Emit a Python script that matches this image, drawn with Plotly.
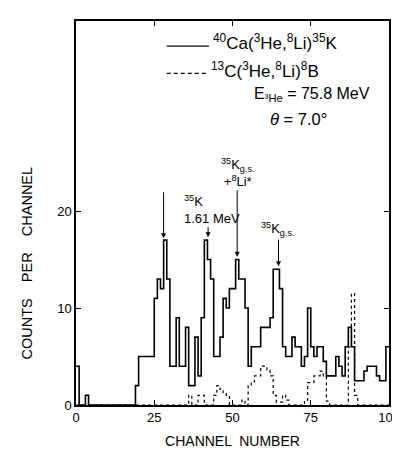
import plotly.graph_objects as go

# counts per channel (channel n covers [n, n+1))
channels = list(range(0, 101))
ca40_counts = [4, 0, 0, 1,
               0, 0, 0, 0, 0, 0, 0, 0, 0, 0, 0, 0, 0, 0, 0,
               2, 5, 5, 5, 5, 5,
               11, 13, 12, 17, 13,
               4, 4, 9, 4, 4,
               8, 2, 2, 7, 3,
               9, 17, 15, 13, 5,
               5, 7, 11, 10, 12,
               12, 15, 13, 13, 10,
               4, 6, 6, 6, 8,
               8, 8, 9, 14, 14,
               12, 6, 5, 5, 7,
               6, 6, 4, 5, 10,
               6, 5, 6, 6, 4.5,
               3, 3, 3, 5, 4,
               3, 6, 8, 6, 2.5,
               2.5, 2.5, 3.5, 4, 4,
               4, 3, 2.5, 2.5, 6]
c13_counts = [0] * 36 + [1, 0, 0, 1, 1, 0, 0, 0, 1, 2, 1.6, 1.2, 1, 0, 0, 0, 0, 0.5, 0,
                         2, 2.4, 3, 3, 4, 4, 3.6, 3, 1, 0.3, 0.3, 1, 0.5, 0, 0, 0, 0, 0,
                         0.5, 2.3, 2.3, 3, 3, 3.5, 3, 0.4, 0, 0, 0, 0, 0, 0, 6, 11.5, 1,
                         0, 0, 0, 0, 0, 0, 0, 0, 0, 0]

x_ticks = [0, 25, 50, 75, 100]
y_ticks = [0, 10, 20]

FONT = "Liberation Sans, Arial, sans-serif"

fig = go.Figure()
fig.add_trace(go.Scatter(x=channels, y=ca40_counts + [ca40_counts[-1]], mode="lines",
                         line=dict(shape="hv", color="black", width=1.6), showlegend=False))
fig.add_trace(go.Scatter(x=channels, y=c13_counts + [c13_counts[-1]], mode="lines",
                         line=dict(shape="hv", color="black", width=1.2, dash="dot"), showlegend=False))

ann = []
# arrows: (head x, head y, tail x, tail y)
arrows = [
    (28.0, 17.2, 28.0, 22.1),
    (42.2, 17.3, 42.2, 18.5),
    (51.5, 15.3, 51.5, 22.3),
    (64.7, 14.3, 64.7, 17.2),
]
for (xh, yh, xt, yt) in arrows:
    ann.append(dict(x=xh, y=yh, ax=xt, ay=yt, xref="x", yref="y", axref="x", ayref="y",
                    showarrow=True, arrowhead=2, arrowsize=1, arrowwidth=1, arrowcolor="black", text=""))
LBL = dict(size=13, family=FONT, color="black")
ann.append(dict(x=34.0, y=18.3, xref="x", yref="y", text="<sup>35</sup>K<br>1.61 MeV", showarrow=False,
                yanchor="bottom", xanchor="left", font=LBL, align="left"))
ann.append(dict(x=51.5, y=22.1, xref="x", yref="y", text="<sup>35</sup>K<sub>g.s.</sub><br>+<sup>8</sup>Li*", showarrow=False,
                yanchor="bottom", xanchor="center", font=LBL, align="center"))
ann.append(dict(x=64.3, y=17.0, xref="x", yref="y", text="<sup>35</sup>K<sub>g.s.</sub>", showarrow=False,
                yanchor="bottom", xanchor="center", font=LBL))

# legend text
ann.append(dict(x=43.0, y=37.4, xref="x", yref="y", text="<sup>40</sup>Ca(<sup>3</sup>He,<sup>8</sup>Li)<sup>35</sup>K",
                showarrow=False, xanchor="left", yanchor="middle", font=dict(size=17, family=FONT, color="black")))
ann.append(dict(x=42.4, y=34.5, xref="x", yref="y", text="<sup>13</sup>C(<sup>3</sup>He,<sup>8</sup>Li)<sup>8</sup>B",
                showarrow=False, xanchor="left", yanchor="middle", font=dict(size=17, family=FONT, color="black")))
ann.append(dict(x=56.3, y=32.0, xref="x", yref="y", text="E<sub>³He</sub> = 75.8 MeV",
                showarrow=False, xanchor="left", yanchor="middle", font=dict(size=16, family=FONT, color="black")))
ann.append(dict(x=61.3, y=29.5, xref="x", yref="y", text="<i>θ</i> = 7.0°",
                showarrow=False, xanchor="left", yanchor="middle", font=dict(size=16.5, family=FONT, color="black")))

# y-axis title as rotated annotation
ann.append(dict(x=-0.158, y=0.37, xref="paper", yref="paper", text="COUNTS    PER    CHANNEL",
                showarrow=False, textangle=-90, xanchor="center", yanchor="middle",
                font=dict(size=14.5, family=FONT, color="black")))

shapes = [
    dict(type="line", xref="x", yref="y", x0=29.0, x1=42.5, y0=37.0, y1=37.0, line=dict(color="black", width=1.2)),
    dict(type="line", xref="x", yref="y", x0=29.0, x1=41.6, y0=34.2, y1=34.2, line=dict(color="black", width=1.2, dash="4px,3px")),
]

fig.update_layout(
    width=400, height=452,
    margin=dict(l=68, r=19, t=13, b=55),
    plot_bgcolor="white", paper_bgcolor="white",
    font=dict(family=FONT, size=12, color="black"),
    annotations=ann, shapes=shapes,
    xaxis=dict(range=[0, 100], tickvals=x_ticks, ticktext=[str(v) for v in x_ticks],
               showline=True, linecolor="black", linewidth=1.5, mirror="ticks",
               ticks="inside", ticklen=5, tickcolor="black", showgrid=False, zeroline=False,
               title=dict(text="CHANNEL  NUMBER", standoff=12, font=dict(size=14)),
               tickfont=dict(size=13), automargin=False),
    yaxis=dict(range=[0, 39.6], tickvals=y_ticks, ticktext=[str(v) for v in y_ticks],
               showline=True, linecolor="black", linewidth=1.5, mirror="ticks",
               ticks="inside", ticklen=5, tickcolor="black", showgrid=False, zeroline=False,
               tickfont=dict(size=13), automargin=False),
)
fig.write_html("out.html")
